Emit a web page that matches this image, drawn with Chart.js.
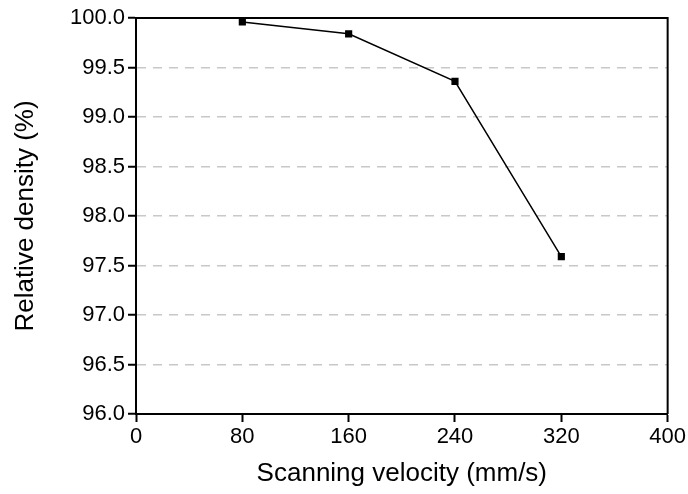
<!DOCTYPE html>
<html>
<head>
<meta charset="utf-8">
<script src="https://cdn.jsdelivr.net/npm/chart.js@4"></script>
<style>
  html, body { margin: 0; padding: 0; background: #fff; }
  #wrap { width: 688px; height: 494px; }
</style>
</head>
<body>
<div id="wrap"><canvas id="myChart" width="688" height="494"></canvas></div>
<script>
// scanning velocity (mm/s) and measured relative density (%)
const velocities = [80, 160, 240, 320];
const densities = [99.96, 99.84, 99.36, 97.59];
const xTicks = [0, 80, 160, 240, 320, 400];
const yTicks = [96.0, 96.5, 97.0, 97.5, 98.0, 98.5, 99.0, 99.5, 100.0];

const FONT = "'Liberation Sans', Arial, sans-serif";

// draws the top and right edges of the frame
const frame = {
  id: "frame",
  afterDatasetsDraw(chart) {
    const { ctx, chartArea: a } = chart;
    ctx.save();
    ctx.strokeStyle = "#000";
    ctx.lineWidth = 2;
    ctx.beginPath();
    ctx.moveTo(a.left, a.top);
    ctx.lineTo(a.right, a.top);
    ctx.lineTo(a.right, a.bottom);
    ctx.stroke();
    ctx.restore();
  },
};

new Chart(document.getElementById("myChart"), {
  type: "line",
  data: {
    datasets: [{
      data: velocities.map((v, i) => ({ x: v, y: densities[i] })),
      borderColor: "#000",
      borderWidth: 1.5,
      backgroundColor: "#000",
      pointStyle: "rect",
      pointRadius: 4,
      pointHoverRadius: 4,
      tension: 0,
    }],
  },
  options: {
    responsive: false,
    animation: false,
    layout: { padding: { top: 18, right: 19, left: 0, bottom: 0 } },
    plugins: { legend: { display: false }, tooltip: { enabled: false } },
    scales: {
      x: {
        type: "linear",
        min: 0,
        max: 400,
        afterBuildTicks: (s) => { s.ticks = xTicks.map((v) => ({ value: v })); },
        grid: { drawOnChartArea: false, drawTicks: true, tickLength: 8, tickColor: "#000", tickWidth: 2 },
        border: { display: true, color: "#000", width: 2 },
        ticks: { color: "#000", font: { family: FONT, size: 22 }, padding: 2, maxRotation: 0 },
        title: { display: true, text: "Scanning velocity (mm/s)", color: "#000", font: { family: FONT, size: 26 }, padding: { top: 6, bottom: 5 } },
        afterFit: (s) => { s.height = 80; },
      },
      y: {
        min: 96,
        max: 100,
        afterBuildTicks: (s) => { s.ticks = yTicks.map((v) => ({ value: v })); },
        grid: { color: "#c8c8c8", lineWidth: 1.5, drawTicks: true, tickLength: 8, tickColor: "#000", tickWidth: 2 },
        border: { display: true, color: "#000", width: 2, dash: [9, 7] },
        ticks: { color: "#000", font: { family: FONT, size: 22 }, padding: 3, callback: (v) => Number(v).toFixed(1) },
        title: { display: true, text: "Relative density (%)", color: "#000", font: { family: FONT, size: 26 }, padding: { top: 10, bottom: 4 } },
        afterFit: (s) => { s.width = 136; },
      },
    },
  },
  plugins: [frame],
});
</script>
</body>
</html>
